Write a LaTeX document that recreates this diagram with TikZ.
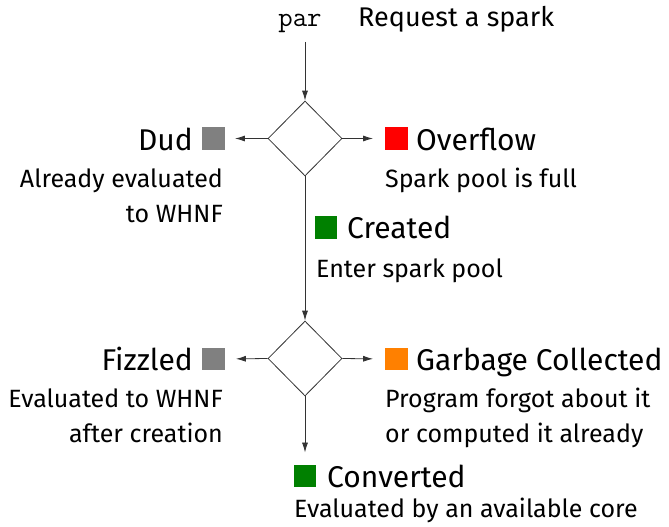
\documentclass[tikz,border=0pt]{standalone}
\usepackage{fontspec}
\setmainfont{Fira Sans}
\usetikzlibrary{shapes.geometric,arrows.meta}
\definecolor{sgray}{RGB}{128,128,128}
\definecolor{sred}{RGB}{255,0,0}
\definecolor{sgreen}{RGB}{0,128,0}
\definecolor{sorange}{RGB}{255,128,0}
\begin{document}
\begin{tikzpicture}[x=1pt,y=-1pt,
  head/.style={font=\fontsize{30}{32}\selectfont, inner sep=0},
  body/.style={font=\fontsize{25}{30}\selectfont, inner sep=0},
  sq/.style={minimum size=22.5pt, inner sep=0, draw=none},
  dia/.style={shape=diamond, draw=black!80, line width=0.8pt, minimum width=74pt, minimum height=75pt, inner sep=0},
  conn/.style={draw=black!80, line width=0.8pt, -{Latex[length=10pt,width=6pt]}}]
\useasboundingbox (0,0) rectangle (669,527);
% top
\node[inner sep=0, anchor=base, font=\fontsize{28}{30}\selectfont\ttfamily] (par) at (300,27) {par};
\node[body, anchor=base west, font=\fontsize{27}{30}\selectfont] (req) at (358,27) {Request a spark};
\coordinate (start) at (305,42);
% diamonds
\node[dia] (d1) at (305,138.5) {};
\node[dia] (d2) at (305,358.5) {};
% first decision
\node[sq, fill=sgray] (dudsq) at (213.5,138.5) {};
\node[head, anchor=base east] (dud) at (193,150) {Dud};
\node[body, anchor=base east] (dud1) at (223,187) {Already evaluated};
\node[body, anchor=base east] (dud2) at (223,222) {to WHNF};
\node[sq, fill=sred] (ovsq) at (396.5,138.5) {};
\node[head, anchor=base west] (ov) at (416,150) {Overflow};
\node[body, anchor=base west] (ov1) at (385,187) {Spark pool is full};
\node[sq, fill=sgreen] (crsq) at (326,227.5) {};
\node[head, anchor=base west] (cr) at (347,238) {Created};
\node[body, anchor=base west] (cr1) at (316,277) {Enter spark pool};
% second decision
\node[sq, fill=sgray] (fzsq) at (213.5,359) {};
\node[head, anchor=base east] (fz) at (193,370) {Fizzled};
\node[body, anchor=base east] (fz1) at (223,407) {Evaluated to WHNF};
\node[body, anchor=base east] (fz2) at (223,442) {after creation};
\node[sq, fill=sorange] (gcsq) at (396.5,359) {};
\node[head, anchor=base west] (gc) at (416,370) {Garbage Collected};
\node[body, anchor=base west] (gc1) at (385,407) {Program forgot about it};
\node[body, anchor=base west] (gc2) at (385,442) {or computed it already};
\node[sq, fill=sgreen] (cvsq) at (305,476) {};
\node[head, anchor=base west] (cv) at (327,487) {Converted};
\node[body, anchor=base west] (cv1) at (294,517) {Evaluated by an available core};
% connectors
\draw[conn] (start) -- (d1.north);
\draw[conn, shorten >=10pt] (d1.west) -- (dudsq.east);
\draw[conn, shorten >=12pt] (d1.east) -- (ovsq.west);
\draw[conn] (d1.south) -- (d2.north);
\draw[conn, shorten >=11pt] (d2.west) -- (fzsq.east);
\draw[conn, shorten >=12pt] (d2.east) -- (gcsq.west);
\draw[conn, shorten >=12pt] (d2.south) -- (cvsq.north);
\end{tikzpicture}
\end{document}
